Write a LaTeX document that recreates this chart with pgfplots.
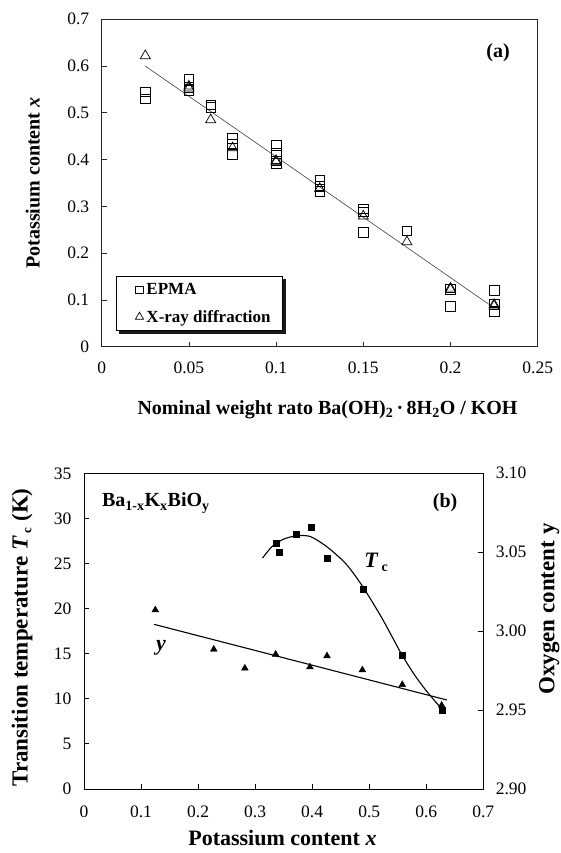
\documentclass[border=0pt]{standalone}
\usepackage{fontspec}
\setmainfont{Liberation Serif}
\usepackage{pgfplots}
\pgfplotsset{compat=1.18}
\usetikzlibrary{shadows}
\begin{document}
\begin{tikzpicture}
\path[use as bounding box] (0pt,0pt) rectangle (561pt,853pt);
% ---------------- Panel (a) ----------------
\begin{axis}[
  at={(101.7pt,506.3pt)}, anchor=south west,
  scale only axis, width=436pt, height=327.4pt,
  xmin=0, xmax=0.25, ymin=0, ymax=0.7,
  xtick={0,0.05,0.1,0.15,0.2,0.25},
  xticklabels={0,0.05,0.1,0.15,0.2,0.25},
  ytick={0,0.1,0.2,0.3,0.4,0.5,0.6,0.7},
  yticklabels={0,0.1,0.2,0.3,0.4,0.5,0.6,0.7},
  /pgf/number format/assume math mode=true,
  tick align=inside, major tick length=5pt,
  xtick pos=bottom, ytick pos=left,
  axis line style={line width=0.9pt, black!85},
  every tick/.style={line width=0.8pt, black!85},
  ticklabel style={font=\fontsize{17.5}{20}\selectfont},
  xticklabel style={yshift=-12pt},
  yticklabel style={xshift=-9pt},
  xlabel={\textbf{Nominal weight rato Ba(OH)\textsubscript{2}\,·\,8H\textsubscript{2}O / KOH}},
  ylabel={\textbf{Potassium content \textit{x}}},
  label style={font=\fontsize{20}{22}\selectfont},
  xlabel style={at={(axis description cs:0.518,-0.193)}, anchor=center},
  ylabel style={at={(axis description cs:-0.158,0.5)}, anchor=center},
  legend style={at={(0.033,0.048)}, anchor=south west, draw=black, fill=white,
    line width=0.8pt,
    font=\fontsize{17}{19}\selectfont\bfseries,
    drop shadow={shadow xshift=3pt, shadow yshift=-3pt, fill=black, opacity=0.9},
    inner xsep=10pt, inner ysep=5pt, row sep=10pt},
  legend cell align=left,
  legend image code/.code={\path[draw=none] (-13pt,0pt) (5pt,0pt); \draw[#1, /tikz/every mark/.append style={scale=0.8}] plot coordinates {(0pt,0pt)};},
]
\addplot[only marks, mark=square, mark size=4.8pt, mark options={line width=0.7pt, black}] coordinates {
 (0.025,0.545) (0.025,0.530)
 (0.05,0.572) (0.05,0.548) (0.05,0.555)
 (0.0625,0.517) (0.0625,0.512)
 (0.075,0.446) (0.075,0.434) (0.075,0.411)
 (0.1,0.430) (0.1,0.413) (0.1,0.392) (0.1,0.397)
 (0.125,0.357) (0.125,0.344) (0.125,0.332)
 (0.15,0.295) (0.15,0.288) (0.15,0.245)
 (0.175,0.248)
 (0.2,0.123) (0.2,0.086)
 (0.225,0.121) (0.225,0.090) (0.225,0.076)
};
\addlegendentry{EPMA}
\addplot[only marks, mark=triangle, mark size=5.8pt, mark options={line width=0.7pt, black}] coordinates {
 (0.025,0.622)
 (0.05,0.553) (0.05,0.557)
 (0.0625,0.485)
 (0.075,0.425)
 (0.1,0.395) (0.1,0.398)
 (0.125,0.338)
 (0.15,0.279)
 (0.175,0.224)
 (0.2,0.122) (0.2,0.125)
 (0.225,0.087) (0.225,0.090)
};
\addlegendentry{X-ray diffraction}
\addplot[line width=0.6pt, black!75, forget plot] coordinates {(0.025,0.600) (0.225,0.083)};
\node[font=\fontsize{20}{22}\selectfont\bfseries] at (rel axis cs:0.909,0.897) {(a)};
\end{axis}
% ---------------- Panel (b) ----------------
\begin{axis}[
  at={(84pt,64pt)}, anchor=south west,
  scale only axis, width=399.3pt, height=315.7pt,
  xmin=0, xmax=0.7, ymin=0, ymax=35,
  xtick={0,0.1,0.2,0.3,0.4,0.5,0.6,0.7},
  xticklabels={0,0.1,0.2,0.3,0.4,0.5,0.6,0.7},
  ytick={0,5,10,15,20,25,30,35},
  yticklabels={0,5,10,15,20,25,30,35},
  /pgf/number format/assume math mode=true,
  tick align=inside, major tick length=5pt,
  xtick pos=bottom, ytick pos=left,
  axis line style={line width=0.9pt, black},
  every tick/.style={line width=0.8pt, black},
  ticklabel style={font=\fontsize{17.5}{20}\selectfont},
  xticklabel style={yshift=-13pt},
  yticklabel style={xshift=-9pt},
  xlabel={\textbf{Potassium content \textit{x}}},
  ylabel={\textbf{Transition temperature \textit{T}\kern3pt\raisebox{-0.35ex}{\fontsize{13}{13}\selectfont c}\ (K)}},
  xlabel style={font=\fontsize{22}{24}\selectfont, at={(axis description cs:0.497,-0.155)}, anchor=center},
  ylabel style={font=\fontsize{23}{25}\selectfont, at={(axis description cs:-0.155,0.48)}, anchor=center},
]
\addplot[only marks, mark=square*, mark size=3pt, black] coordinates {
 (0.337,27.3) (0.342,26.2) (0.372,28.3) (0.398,29.0) (0.427,25.6) (0.489,22.1) (0.558,14.8) (0.628,8.7)
};
\addplot[smooth, line width=1.1pt, black] coordinates {
 (0.313,25.6) (0.33,26.9) (0.35,27.7) (0.37,28.05) (0.385,28.1) (0.40,27.9) (0.427,26.8) (0.46,24.9) (0.489,22.4) (0.52,19.2) (0.54,16.9) (0.558,14.8) (0.58,12.6) (0.60,10.9) (0.628,8.8)
};
\node[font=\fontsize{20}{22}\selectfont\bfseries] at (axis cs:0.126,31.7) {Ba\textsubscript{1-x}K\textsubscript{x}BiO\textsubscript{y}};
\node[font=\fontsize{20}{22}\selectfont\bfseries] at (axis cs:0.633,31.7) {(b)};
\node[font=\fontsize{22}{24}\selectfont\bfseries] at (axis cs:0.512,25.1) {\textit{T}\kern3pt\raisebox{-0.4ex}{\fontsize{14}{14}\selectfont c}};
\node[font=\fontsize{22}{24}\selectfont\bfseries] at (axis cs:0.135,15.7) {\textit{y}};
\end{axis}
\begin{axis}[
  at={(84pt,64pt)}, anchor=south west,
  scale only axis, width=399.3pt, height=315.7pt,
  xmin=0, xmax=0.7, ymin=2.90, ymax=3.10,
  axis x line=none, axis y line*=right,
  ytick={2.90,2.95,3.00,3.05,3.10},
  yticklabels={2.90,2.95,3.00,3.05,3.10},
  /pgf/number format/assume math mode=true,
  tick align=inside, major tick length=5pt,
  axis line style={line width=0.9pt, black},
  every tick/.style={line width=0.8pt, black},
  ticklabel style={font=\fontsize{17.5}{20}\selectfont},
  yticklabel style={xshift=9pt},
  ylabel={\textbf{Oxygen content y}},
  ylabel style={font=\fontsize{23}{25}\selectfont, at={(axis description cs:1.165,0.57)}, anchor=center},
]
\addplot[only marks, mark=triangle*, mark size=3.9pt, black] coordinates {
 (0.125,3.0134) (0.2275,2.9885) (0.282,2.9765) (0.336,2.9853) (0.396,2.9773) (0.426,2.9843) (0.488,2.9754) (0.558,2.9661) (0.627,2.9530)
};
\addplot[line width=1.1pt, black] coordinates {(0.123,3.0043) (0.636,2.9564)};
\end{axis}
\end{tikzpicture}
\end{document}
